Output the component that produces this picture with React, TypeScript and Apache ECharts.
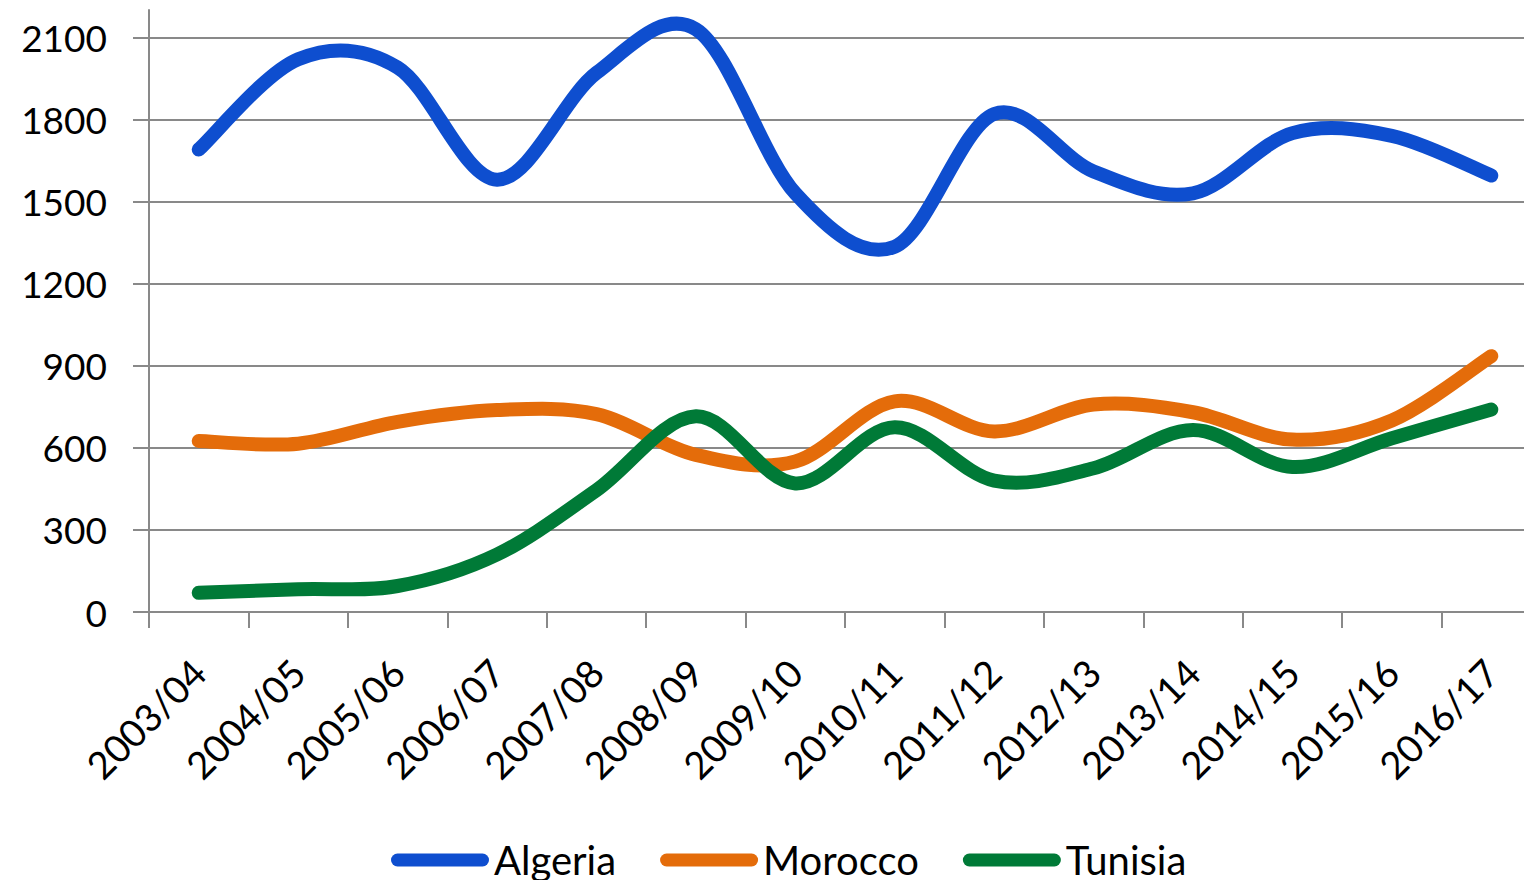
import React, { useEffect, useRef } from "react";
import * as echarts from "echarts";

const categories = [
  "2003/04", "2004/05", "2005/06", "2006/07", "2007/08", "2008/09", "2009/10",
  "2010/11", "2011/12", "2012/13", "2013/14", "2014/15", "2015/16", "2016/17",
];
const algeria = [1690, 2020, 1990, 1580, 1970, 2130, 1530, 1335, 1820, 1610, 1530, 1750, 1740, 1595];
const morocco = [625, 615, 695, 738, 723, 574, 550, 770, 660, 758, 730, 630, 700, 935];
const tunisia = [70, 83, 95, 210, 445, 715, 470, 675, 480, 525, 665, 530, 635, 740];
const yTicks = [0, 300, 600, 900, 1200, 1500, 1800, 2100];

const seriesNames = ["Algeria", "Morocco", "Tunisia"];
const seriesColors = ["#0E4ECF", "#E46C0A", "#007A37"];

const FONT = "Lato";
const GRAY = "#898989";
const CAPSULE = "path://M6.5,0 H91.5 A6.5,6.5 0 0 1 91.5,13 H6.5 A6.5,6.5 0 0 1 6.5,0 Z";

// Excel-like smoothed line (Catmull-Rom converted to cubic Bezier)
function smoothPath(pts: number[][]): string {
  let d = `M${pts[0][0]},${pts[0][1]}`;
  const t = 1 / 6;
  for (let i = 0; i < pts.length - 1; i++) {
    const p0 = pts[i - 1] || pts[i];
    const p1 = pts[i];
    const p2 = pts[i + 1];
    const p3 = pts[i + 2] || pts[i + 1];
    const c1x = p1[0] + (p2[0] - p0[0]) * t;
    const c1y = p1[1] + (p2[1] - p0[1]) * t;
    const c2x = p2[0] - (p3[0] - p1[0]) * t;
    const c2y = p2[1] - (p3[1] - p1[1]) * t;
    d += ` C${c1x},${c1y} ${c2x},${c2y} ${p2[0]},${p2[1]}`;
  }
  return d;
}

export default function App() {
  const ref = useRef<HTMLDivElement>(null);
  useEffect(() => {
    if (!ref.current) return;
    const chart = echarts.init(ref.current, null, { renderer: "svg" });
    const values = [algeria, morocco, tunisia];
    chart.setOption({
      animation: false,
      backgroundColor: "#ffffff",
      grid: { left: 149, right: 0, top: 10, bottom: 268, containLabel: false },
      legend: {
        left: 386,
        top: 835,
        itemWidth: 98,
        itemHeight: 13,
        itemGap: 44,
        icon: CAPSULE,
        textStyle: { fontFamily: FONT, fontSize: 40, color: "#000", lineHeight: 40 },
        data: seriesNames,
      },
      xAxis: {
        type: "category",
        data: categories,
        boundaryGap: true,
        axisLine: { lineStyle: { color: GRAY, width: 2 } },
        axisTick: { show: true, length: 16, interval: 0, lineStyle: { color: GRAY, width: 2 } },
        axisLabel: {
          interval: 0,
          rotate: 45,
          margin: 54,
          fontFamily: FONT,
          fontSize: 38,
          color: "#000",
        },
        splitLine: { show: false },
      },
      yAxis: {
        type: "value",
        min: 0,
        max: 2200,
        interval: 100,
        axisLine: { show: true, lineStyle: { color: GRAY, width: 2 } },
        axisTick: { show: true, length: 16, customValues: yTicks, lineStyle: { color: GRAY, width: 2 } },
        axisLabel: {
          customValues: yTicks,
          margin: 42,
          fontFamily: FONT,
          fontSize: 37,
          color: "#000",
          formatter: (v: number) => String(v),
        },
        splitLine: { show: true, lineStyle: { color: GRAY, width: 2 } },
      },
      series: seriesNames.map((name, i) => ({
        name,
        type: "custom",
        data: values[i].map((v, j) => [j, v]),
        encode: { x: 0, y: 1 },
        itemStyle: { color: seriesColors[i] },
        z: 3,
        renderItem: (params: any, api: any) => {
          if (params.dataIndex !== 0) return null;
          const pts = values[i].map((v, j) => api.coord([j, v]));
          return {
            type: "path",
            shape: { pathData: smoothPath(pts) },
            style: {
              fill: "none",
              stroke: seriesColors[i],
              lineWidth: 14,
              lineCap: "round",
              lineJoin: "round",
            },
          };
        },
      })),
    });
    return () => chart.dispose();
  }, []);
  return (
    <div style={{ position: "fixed", left: 0, top: 0, width: 1524, height: 880, overflow: "hidden", background: "#fff" }}>
      <div ref={ref} style={{ width: 1541, height: 880 }} />
    </div>
  );
}
